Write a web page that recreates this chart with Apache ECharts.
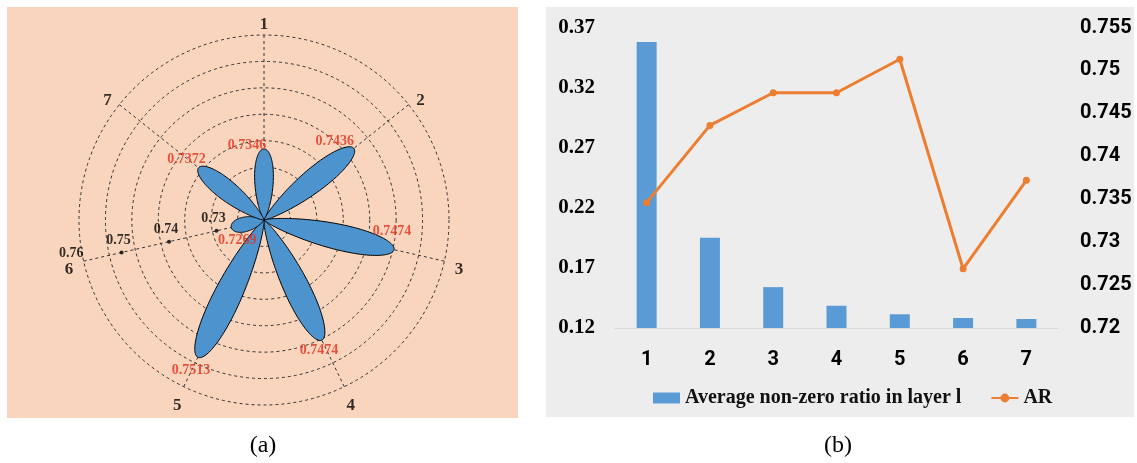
<!DOCTYPE html>
<html>
<head>
<meta charset="utf-8">
<script src="https://cdn.jsdelivr.net/npm/echarts@6/dist/echarts.min.js"></script>
<style>
  html, body { margin: 0; padding: 0; background: #ffffff; }
  #chart { width: 1137px; height: 463px; }
</style>
</head>
<body>
<div id="chart"></div>
<script>
// ---- data ----
const layers = ['1', '2', '3', '4', '5', '6', '7'];
const arValues = [0.7346, 0.7436, 0.7474, 0.7474, 0.7513, 0.7269, 0.7372];
const nonZeroRatio = [0.358, 0.195, 0.154, 0.1385, 0.1314, 0.1283, 0.1275];
const radialTicks = [0.73, 0.74, 0.75, 0.76];
const ratioTicks = ['0.12', '0.17', '0.22', '0.27', '0.32', '0.37'];

// ---- styling constants ----
const SERIF = '"Liberation Serif", "Times New Roman", serif';
const SANS = 'Roboto, "Open Sans", sans-serif';
const R_MIN = 0.72;          // value at the centre of the rose
const R_RING = 0.758;        // value reached by the outermost dashed ring
const R_TOP = 0.7625;        // value extent kept for text just outside the ring
const LABEL_R = 0.7611;      // radius where spoke names sit
const RADIAL_SPOKE = 5;      // spoke carrying the radial scale
const CENTER = [264, 220], RING_PX = 185;
const DATA_PX = RING_PX * (R_TOP - R_MIN) / (R_RING - R_MIN);
const GRID_DASH = { color: '#333333', width: 1, type: [3, 3] };
// pixel nudges for the value tags at each petal tip
const tipNudge = [[-17, -4], [-19, -7], [-2, -18], [-3, 10], [-7, 13], [6, 13], [-12, -8]];

// petal outline: pointed at the centre, widest a bit past halfway, rounded tip
function petal(params, api) {
  const v = api.value(0), k = api.value(1);
  const c = api.coord([R_MIN, k]);
  const p = api.coord([v, k]);
  const dx = p[0] - c[0], dy = p[1] - c[1];
  const L = Math.hypot(dx, dy);
  const ux = dx / L, uy = dy / L, nx = -uy, ny = ux;
  const W = 11 + 0.11 * L;
  const norm = 0.4206;
  const half = t => (W / 2) * Math.pow(t, 0.8) * Math.sqrt(Math.max(0, 1 - t)) / norm;
  const N = 80, pts = [];
  for (let j = 0; j <= N; j++) {
    const t = (1 - Math.cos(Math.PI * j / N)) / 2, h = half(t);
    pts.push([c[0] + ux * L * t + nx * h, c[1] + uy * L * t + ny * h]);
  }
  for (let j = N - 1; j > 0; j--) {
    const t = (1 - Math.cos(Math.PI * j / N)) / 2, h = half(t);
    pts.push([c[0] + ux * L * t - nx * h, c[1] + uy * L * t - ny * h]);
  }
  return {
    type: 'polygon',
    shape: { points: pts },
    style: { fill: '#4D94CF', stroke: '#000000', lineWidth: 1 }
  };
}

const chart = echarts.init(document.getElementById('chart'), null, { renderer: 'canvas' });

chart.setOption({
  animation: false,
  backgroundColor: '#ffffff',
  graphic: [
    { type: 'rect', z: -100, shape: { x: 7, y: 7, width: 511, height: 411 }, style: { fill: '#FAD5BE' } },
    { type: 'rect', z: -100, shape: { x: 546, y: 7, width: 588, height: 410 }, style: { fill: '#EDEDED' } },
    { type: 'text', x: 263, y: 446, style: { text: '(a)', font: '24px "Liberation Serif"', align: 'center', verticalAlign: 'middle', fill: '#000' } },
    { type: 'text', x: 838, y: 446, style: { text: '(b)', font: '24px "Liberation Serif"', align: 'center', verticalAlign: 'middle', fill: '#000' } }
  ],
  polar: [
    { center: CENTER, radius: RING_PX },
    { center: CENTER, radius: DATA_PX }
  ],
  angleAxis: [
    {
      polarIndex: 0, type: 'value', min: 0, max: 7, interval: 1, startAngle: 90, clockwise: true,
      axisLine: { show: false }, axisTick: { show: false }, axisLabel: { show: false },
      splitLine: { show: true, lineStyle: GRID_DASH }
    },
    { polarIndex: 1, type: 'value', min: 0, max: 7, interval: 1, startAngle: 90, clockwise: true, show: false }
  ],
  radiusAxis: [
    {
      polarIndex: 0, type: 'value', min: 0, max: 7, interval: 1,
      axisLine: { show: false }, axisTick: { show: false }, axisLabel: { show: false },
      splitLine: { show: true, lineStyle: GRID_DASH }
    },
    { polarIndex: 1, type: 'value', min: R_MIN, max: R_TOP, show: false }
  ],
  grid: { left: 615, right: 79, top: 27.5, bottom: 135 },
  xAxis: {
    type: 'category', data: layers,
    axisLine: { lineStyle: { color: '#d9d9d9', width: 1 } },
    axisTick: { show: false },
    axisLabel: { margin: 22, fontFamily: SANS, fontWeight: 700, fontSize: 20, color: '#000' }
  },
  yAxis: [
    {
      type: 'value', min: 0.12, max: 0.37, interval: 0.01,
      axisLine: { show: false }, axisTick: { show: false }, splitLine: { show: false },
      axisLabel: {
        margin: 20, fontFamily: SERIF, fontWeight: 700, fontSize: 21, color: '#000',
        formatter: v => (ratioTicks.includes(v.toFixed(2)) ? v.toFixed(2) : '')
      }
    },
    {
      type: 'value', min: 0.72, max: 0.755, interval: 0.005, position: 'right',
      axisLine: { show: false }, axisTick: { show: false }, splitLine: { show: false },
      axisLabel: { margin: 22, fontFamily: SANS, fontWeight: 700, fontSize: 20, color: '#000' }
    }
  ],
  legend: {
    left: 648, top: 383, itemWidth: 27, itemHeight: 11, itemGap: 29,
    textStyle: { fontFamily: SERIF, fontWeight: 700, fontSize: 20, color: '#111' },
    data: [{ name: 'Average non-zero ratio in layer l', icon: 'rect' }, { name: 'AR' }]
  },
  series: [
    {
      name: 'petals', type: 'custom', coordinateSystem: 'polar', polarIndex: 1,
      data: arValues.map((v, i) => [v, i]),
      renderItem: petal, z: 3
    },
    {
      name: 'petal values', type: 'scatter', coordinateSystem: 'polar', polarIndex: 1,
      symbolSize: 0, z: 5,
      data: arValues.map((v, i) => ({
        value: [v, i],
        label: { offset: tipNudge[i] }
      })),
      label: {
        show: true, position: 'inside', color: '#E2311E',
        fontFamily: SERIF, fontWeight: 700, fontSize: 14,
        formatter: p => p.value[0].toFixed(4)
      }
    },
    {
      name: 'radial scale', type: 'scatter', coordinateSystem: 'polar', polarIndex: 1,
      symbol: 'circle', z: 5, itemStyle: { color: '#000' },
      data: radialTicks.map(v => ({ value: [v, RADIAL_SPOKE], symbolSize: v <= R_RING ? 4 : 0 })),
      label: {
        show: true, position: 'top', distance: 3, offset: [-3, 0], color: '#000',
        fontFamily: SERIF, fontWeight: 700, fontSize: 14,
        formatter: p => String(p.value[0])
      }
    },
    {
      name: 'spoke names', type: 'scatter', coordinateSystem: 'polar', polarIndex: 1,
      symbolSize: 0, z: 5,
      data: layers.map((l, i) => [LABEL_R, i]),
      label: {
        show: true, position: 'inside', offset: [0, 5], color: '#000',
        fontFamily: SERIF, fontWeight: 700, fontSize: 17,
        formatter: p => layers[p.dataIndex]
      }
    },
    {
      name: 'Average non-zero ratio in layer l', type: 'bar', xAxisIndex: 0, yAxisIndex: 0,
      data: nonZeroRatio, barWidth: 20, itemStyle: { color: '#5B9BD5' }
    },
    {
      name: 'AR', type: 'line', xAxisIndex: 0, yAxisIndex: 1, data: arValues,
      symbol: 'circle', symbolSize: 7,
      lineStyle: { width: 3, color: '#ED7D31' }, itemStyle: { color: '#ED7D31' }
    }
  ]
});
</script>
</body>
</html>
